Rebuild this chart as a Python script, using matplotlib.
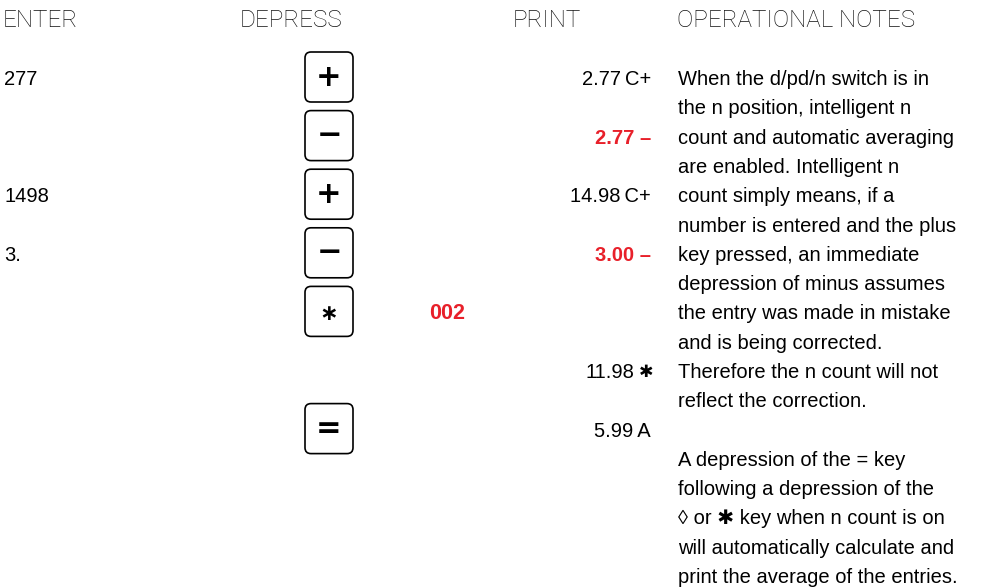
import matplotlib.pyplot as plt
from matplotlib.patches import FancyBboxPatch

plt.rcParams['font.family'] = ['Liberation Sans', 'DejaVu Sans']

headers = ["ENTER", "DEPRESS", "PRINT", "OPERATIONAL NOTES"]
header_x = [3, 240, 513, 677]

enter_vals = ["277", "", "1498", "3.", "", "", ""]
keys = ["+", "\u2212", "+", "\u2212", "\u2217", "", "="]
print_nums = ["2.77", "2.77", "14.98", "3.00", "", "11.98", "5.99"]
print_marks = ["C+", "\u2013", "C+", "\u2013", "", "\u2731", "A"]
print_red = [False, True, False, True, False, False, False]
count_row = 4
count_val = "002"

notes = [
    "When the d/pd/n switch is in",
    "the n position, intelligent n",
    "count and automatic averaging",
    "are enabled. Intelligent n",
    "count simply means, if a",
    "number is entered and the plus",
    "key pressed, an immediate",
    "depression of minus assumes",
    "the entry was made in mistake",
    "and is being corrected.",
    "Therefore the n count will not",
    "reflect the correction.",
    "",
    "A depression of the = key",
    "following a depression of the",
    "\u25CA or \u2731 key when n count is on",
    "will automatically calculate and",
    "print the average of the entries.",
]

RED = "#e8202a"
fs = 14.5

fig = plt.figure(figsize=(9.96, 5.88), dpi=100)
ax = fig.add_axes([0, 0, 1, 1])
ax.set_xlim(0, 996)
ax.set_ylim(588, 0)
ax.axis('off')

for h, x in zip(headers, header_x):
    ax.text(x, 27, h, fontsize=17.5, va='baseline', ha='left',
            family=['Roboto', 'DejaVu Sans'], fontweight='light', color='#111111')

line = 29.3
base = 85
for i in range(len(keys)):
    yb = base + 2 * line * i
    if enter_vals[i]:
        ax.text(4, yb, enter_vals[i], fontsize=fs, va='baseline', ha='left')
    if keys[i]:
        box = FancyBboxPatch((305, yb - 33), 48, 50,
                             boxstyle="round,pad=0,rounding_size=6",
                             fc='white', ec='black', lw=1.2)
        ax.add_patch(box)
        star = keys[i] == "\u2217"
        ax.text(329, yb - 5 if star else yb - 8, keys[i],
                fontsize=16 if star else 22,
                fontweight='bold', ha='center', va='center',
                family=['DejaVu Sans'])
    if print_nums[i]:
        red = print_red[i]
        col = RED if red else 'black'
        wt = 'bold' if red else 'normal'
        mark = print_marks[i]
        if mark == "\u2731":
            ax.text(634, yb, print_nums[i], fontsize=fs, va='baseline', ha='right',
                    color=col, fontweight=wt)
            ax.text(646, yb - 6, mark, fontsize=12.5, va='center', ha='center',
                    color=col, family=['DejaVu Sans'])
        else:
            sep = " " if red else "\u2009"
            ax.text(651, yb, print_nums[i] + sep + mark, fontsize=fs,
                    va='baseline', ha='right', color=col, fontweight=wt)

ax.text(447, base + 2 * line * count_row, count_val, fontsize=15.5, va='baseline',
        ha='center', color=RED, fontweight='bold')

for j, t in enumerate(notes):
    if t:
        ax.text(678, base + line * j, t, fontsize=fs, va='baseline', ha='left')

fig.savefig("out.png", dpi=100)
